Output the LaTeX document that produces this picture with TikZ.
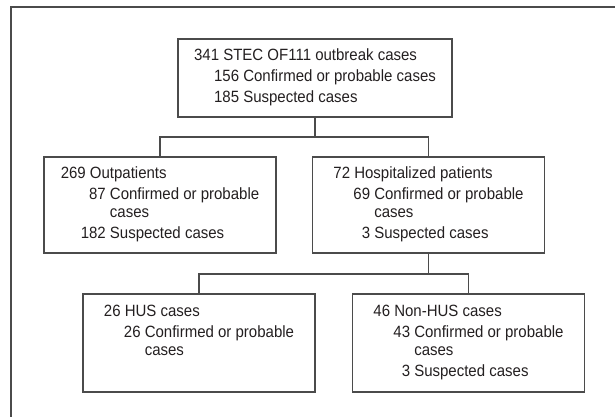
\documentclass[tikz,border=0pt]{standalone}
\usepackage{fontspec}
\setmainfont{Liberation Sans}[FakeStretch=0.92]
\usepackage{xcolor}
\usepackage{tikz}
\usetikzlibrary{positioning}
\definecolor{mydark}{RGB}{35,31,32}
\definecolor{myline}{RGB}{75,75,75}
\tikzset{
  casebox/.style={rectangle, draw=myline, line width=0.9pt,
    minimum width=5.8cm, minimum height=2.4cm, inner sep=0pt,
    font=\fontsize{11.6}{12.6}\selectfont, text=mydark},
  topbox/.style={casebox, minimum width=6.85cm, minimum height=1.95cm},
  line/.style={line width=0.9pt, color=myline}
}
\newcommand{\casetab}[1]{\begin{tabular}{@{\hspace{0.5cm}}r@{\ }l@{}}#1\end{tabular}}
\newcommand{\headrow}[1]{\multicolumn{2}{@{}l@{}}{#1}\\[2.5pt]}

\begin{document}
\begin{tikzpicture}
  \useasboundingbox (0,0) rectangle (15.375,10.425);
  % Frame
  \draw[line] (0.275,0) -- (0.275,10.25) -- (15.375,10.25);

  % Boxes
  \node[topbox] (outbreak) at (7.875,8.475)
    {\casetab{\headrow{341 STEC OF111 outbreak cases}
      156 & Confirmed or probable cases\\[2.5pt]
      185 & Suspected cases}};
  \node[casebox] (outpat) at (4.0,5.3)
    {\casetab{\headrow{269 Outpatients}
      87 & Confirmed or probable\\
         & cases\\[2.5pt]
      182 & Suspected cases}};
  \node[casebox] (hosp) at (10.7125,5.3)
    {\casetab{\headrow{72 Hospitalized patients}
      69 & Confirmed or probable\\
         & cases\\[2.5pt]
      3 & Suspected cases}};
  \node[casebox, minimum height=2.45cm] (hus) at (4.975,1.85)
    {\casetab{\headrow{26 HUS cases}
      26 & Confirmed or probable\\
         & cases\\[2.5pt]
         & }};
  \node[casebox, minimum height=2.45cm] (nonhus) at (11.7125,1.85)
    {\casetab{\headrow{46 Non-HUS cases}
      43 & Confirmed or probable\\
         & cases\\[2.5pt]
      3 & Suspected cases}};

  % Connectors
  \coordinate (splitA) at (7.875,7.0);
  \coordinate (splitB) at (10.7125,3.575);
  \draw[line] (outbreak.south) -- (splitA);
  \draw[line] (outpat.north) -- (outpat.north |- splitA)
    -- (hosp.north |- splitA) -- (hosp.north);
  \draw[line] (hosp.south) -- (splitB);
  \draw[line] (hus.north) -- (hus.north |- splitB)
    -- (nonhus.north |- splitB) -- (nonhus.north);
\end{tikzpicture}
\end{document}
